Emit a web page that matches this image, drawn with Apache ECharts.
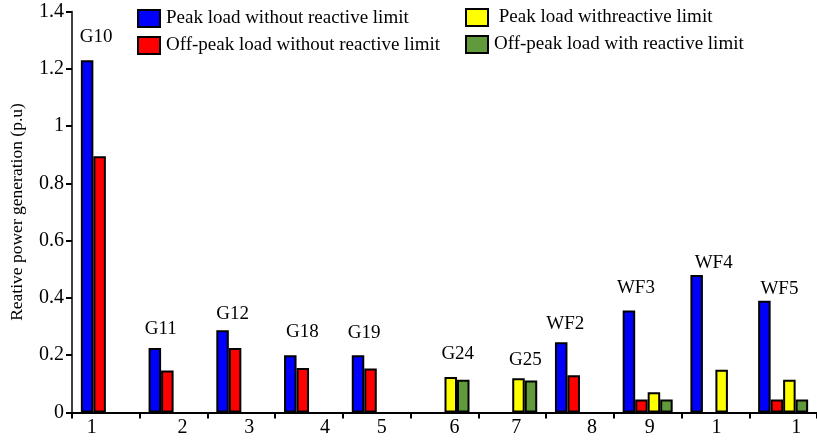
<!DOCTYPE html>
<html>
<head>
<meta charset="utf-8">
<script src="https://cdn.jsdelivr.net/npm/echarts@6/dist/echarts.min.js"></script>
<style>
html,body{margin:0;padding:0;background:#fff;}
#chart{width:817px;height:440px;}
</style>
</head>
<body>
<div id="chart"></div>
<script>
// ---- data ----
const categories = ['1','2','3','4','5','6','7','8','9','1','1'];
const groupNames = ['G10','G11','G12','G18','G19','G24','G25','WF2','WF3','WF4','WF5'];
const seriesNames = ['Peak load without reactive limit','Off-peak load without reactive limit',' Peak load withreactive limit','Off-peak load with reactive limit'];
const peakNoLimit    = [1.23, 0.225, 0.287, 0.200, 0.200, null, null, 0.245, 0.356, 0.480, 0.390];
const offPeakNoLimit = [0.895, 0.147, 0.225, 0.155, 0.154, null, null, 0.130, 0.045, null, 0.045];
const peakLimit      = [null, null, null, null, null, 0.124, 0.120, null, 0.071, 0.149, 0.114];
const offPeakLimit   = [null, null, null, null, null, 0.114, 0.112, null, 0.045, null, 0.045];
const yTicks = [0, 0.2, 0.4, 0.6, 0.8, 1, 1.2, 1.4];

// ---- styling ----
const colors = ['#0000ff','#ff0000','#ffff00','#619a3b'];
const FONT = 'Liberation Serif';
// label host: which series carries each group's name (0 = blue, 2 = yellow)
const labelHost = [0,0,0,0,0,2,2,0,0,0,0];
const labelOffsets = [[9,-9],[6,-5],[10,-2],[12,-9],[6,-8],[7,-8],[7,-4],[4,-4],[7,-8],[17,3],[15,3]];
const xLabelShift = [-14, 9, 8, 16, 5, 10, 4, 12, 2, 1, 13];

const allValues = [peakNoLimit, offPeakNoLimit, peakLimit, offPeakLimit];

function buildData(si) {
  return allValues[si].map(function (v, i) {
    const item = { value: v };
    if (labelHost[i] === si && v != null) {
      item.label = {
        show: true,
        position: 'top',
        distance: 5,
        offset: labelOffsets[i],
        formatter: groupNames[i],
        color: '#000',
        fontFamily: FONT,
        fontSize: 19
      };
    }
    return item;
  });
}

const rich = {};
xLabelShift.forEach(function (s, i) {
  rich['p' + i] = {
    fontFamily: FONT, fontSize: 20, color: '#000',
    padding: s >= 0 ? [0, 0, 0, 2 * s] : [0, -2 * s, 0, 0]
  };
});

const legendText = { fontFamily: FONT, fontSize: 19, color: '#000', padding: [0, 0, 0, 1] };

const chart = echarts.init(document.getElementById('chart'), null, { renderer: 'canvas' });
chart.setOption({
  animation: false,
  backgroundColor: '#fff',
  legend: [
    {
      data: [seriesNames[0], seriesNames[1]],
      orient: 'vertical',
      left: 137, top: 9,
      padding: 0,
      icon: 'rect',
      itemWidth: 22, itemHeight: 17, itemGap: 8,
      textStyle: legendText,
      selectedMode: false
    },
    {
      data: [seriesNames[2], seriesNames[3]],
      orient: 'vertical',
      left: 465, top: 8,
      padding: 0,
      icon: 'rect',
      itemWidth: 22, itemHeight: 17, itemGap: 8,
      textStyle: legendText,
      selectedMode: false
    }
  ],
  grid: { left: 72, right: -4, top: 11.5, bottom: 27.5, containLabel: false },
  xAxis: {
    type: 'category',
    data: categories,
    boundaryGap: true,
    axisLine: { lineStyle: { color: '#000', width: 2 } },
    axisTick: { show: true, inside: false, length: 6, lineStyle: { color: '#000', width: 2 } },
    axisLabel: {
      margin: 5,
      formatter: function (v, i) { return '{p' + i + '|' + v + '}'; },
      rich: rich
    },
    splitLine: { show: false }
  },
  yAxis: {
    type: 'value',
    min: yTicks[0], max: yTicks[yTicks.length - 1], interval: 0.2,
    name: 'Reative power generation (p.u)',
    nameLocation: 'middle',
    nameGap: 46,
    nameRotate: 90,
    nameTextStyle: { fontFamily: FONT, fontSize: 17.5, color: '#000' },
    axisLine: { show: true, lineStyle: { color: '#000', width: 1.5 } },
    axisTick: { show: true, length: 6, lineStyle: { color: '#000', width: 2 } },
    axisLabel: { fontFamily: FONT, fontSize: 20, color: '#000', margin: 8 },
    splitLine: { show: false }
  },
  series: seriesNames.map(function (n, si) {
    return {
      name: n,
      type: 'bar',
      barWidth: 12.5,
      barGap: '0%',
      data: buildData(si),
      itemStyle: { color: colors[si], borderColor: '#000', borderWidth: 2 }
    };
  })
});
</script>
</body>
</html>
